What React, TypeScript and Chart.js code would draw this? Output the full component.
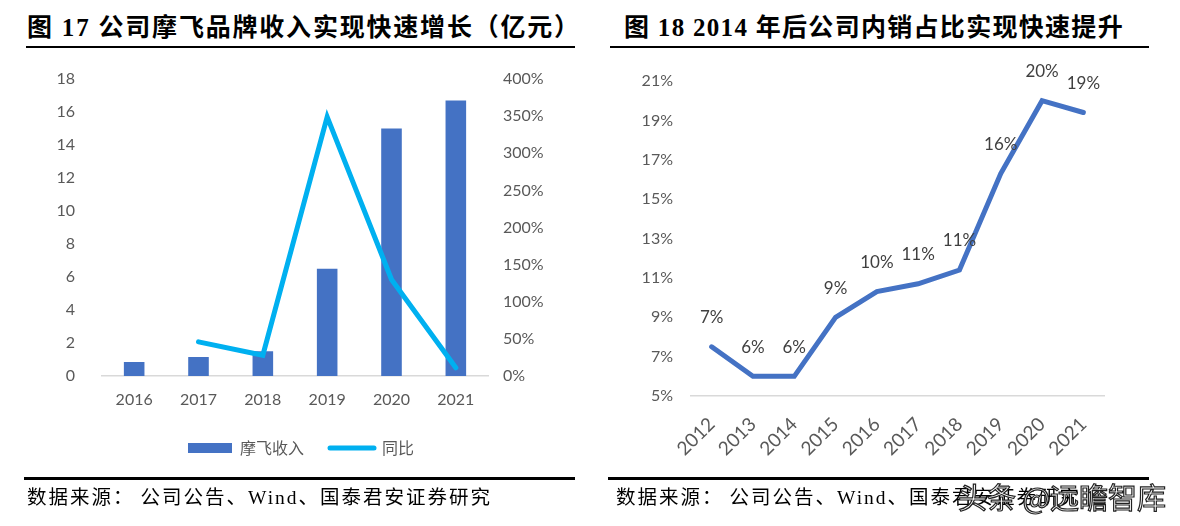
import React, { useEffect, useRef } from "react";
import { Chart, registerables } from "chart.js";

Chart.register(...registerables);

// ---- Left chart data ----
const revenueYears = ["2016", "2017", "2018", "2019", "2020", "2021"];
const revenueValues = [0.85, 1.15, 1.5, 6.5, 15.0, 16.7]; // 亿元
const growthValues: (number | null)[] = [null, 46, 28, 349, 130, 11]; // %
const revenueLabel = "摩飞收入";
const growthLabel = "同比";

// ---- Right chart data ----
const shareYears = ["2012", "2013", "2014", "2015", "2016", "2017", "2018", "2019", "2020", "2021"];
const shareValues = [7.5, 6.0, 6.0, 9.0, 10.3, 10.7, 11.4, 16.3, 20.0, 19.4]; // %
const shareLabels = ["7%", "6%", "6%", "9%", "10%", "11%", "11%", "16%", "20%", "19%"];

const titleLeft = "图 17 公司摩飞品牌收入实现快速增长（亿元）";
const titleRight = "图 18 2014 年后公司内销占比实现快速提升";
const sourceHead = "数据来源：";
const sourceTail = "公司公告、Wind、国泰君安证券研究";
const watermark = "头条 @远瞻智库";

const TICK_FONT = { family: "Lato, 'Noto Sans CJK SC', sans-serif", size: 16 };
const TICK_COLOR = "#595959";

const noYPadding = (w: number) => (s: any) => {
  s.width = w;
  s.paddingTop = 0;
  s.paddingBottom = 0;
};

function LeftChart() {
  const ref = useRef<HTMLCanvasElement | null>(null);
  useEffect(() => {
    if (!ref.current) return;
    const chart = new Chart(ref.current, {
      type: "bar",
      data: {
        labels: revenueYears,
        datasets: [
          {
            type: "bar",
            label: revenueLabel,
            data: revenueValues,
            backgroundColor: "#4472C4",
            yAxisID: "y",
            barPercentage: 0.32,
            categoryPercentage: 1,
            order: 2,
          } as any,
          {
            type: "line",
            label: growthLabel,
            data: growthValues,
            borderColor: "#00B0F0",
            backgroundColor: "#00B0F0",
            borderWidth: 5,
            pointRadius: 0,
            pointHoverRadius: 0,
            yAxisID: "y1",
            order: 1,
            borderCapStyle: "round",
          } as any,
        ],
      },
      options: {
        responsive: false,
        animation: false,
        devicePixelRatio: 1,
        layout: { padding: { top: 19, left: 0, right: 0, bottom: 24 } },
        plugins: {
          tooltip: { enabled: false },
          legend: {
            display: true,
            position: "bottom",
            labels: {
              usePointStyle: true,
              pointStyleWidth: 44,
              boxHeight: 10,
              padding: 26,
              color: TICK_COLOR,
              font: { family: "'Noto Sans CJK SC', sans-serif", size: 16 },
              generateLabels: (c: any) =>
                c.data.datasets.map((ds: any, i: number) => ({
                  text: ds.label,
                  datasetIndex: i,
                  fillStyle: i === 0 ? "#4472C4" : "#00B0F0",
                  strokeStyle: i === 0 ? "#4472C4" : "#00B0F0",
                  lineWidth: i === 0 ? 0 : 5,
                  lineCap: "round",
                  pointStyle: i === 0 ? "rect" : "line",
                  fontColor: TICK_COLOR,
                  hidden: false,
                })),
            },
          },
        },
        scales: {
          x: {
            grid: { display: false, drawTicks: false },
            border: { display: true, color: "#D9D9D9", width: 1.5 },
            ticks: { color: TICK_COLOR, font: TICK_FONT, padding: 14 },
            afterFit: (s: any) => {
              s.height = 38;
            },
          },
          y: {
            position: "left",
            min: 0,
            max: 18,
            grid: { display: false, drawTicks: false },
            border: { display: false },
            ticks: { stepSize: 2, color: TICK_COLOR, font: TICK_FONT, padding: 27 },
            afterFit: noYPadding(76),
          },
          y1: {
            position: "right",
            min: 0,
            max: 400,
            grid: { display: false, drawTicks: false },
            border: { display: false },
            ticks: {
              stepSize: 50,
              color: TICK_COLOR,
              font: TICK_FONT,
              padding: 15,
              callback: (v: any) => v + "%",
            },
            afterFit: noYPadding(88),
          },
        },
      } as any,
    });
    return () => chart.destroy();
  }, []);
  return (
    <canvas
      ref={ref}
      width={550}
      height={430}
      style={{ position: "absolute", left: 26, top: 60, width: 550, height: 430 }}
    />
  );
}

const shareLabelPlugin = {
  id: "shareLabels",
  afterDatasetsDraw(chart: any) {
    const meta = chart.getDatasetMeta(0);
    const ctx = chart.ctx;
    ctx.save();
    ctx.font = "17px Lato, sans-serif";
    ctx.fillStyle = "#404040";
    ctx.textAlign = "center";
    ctx.textBaseline = "middle";
    meta.data.forEach((pt: any, i: number) => {
      ctx.fillText(shareLabels[i], pt.x, pt.y - 29);
    });
    ctx.restore();
  },
};

function RightChart() {
  const ref = useRef<HTMLCanvasElement | null>(null);
  useEffect(() => {
    if (!ref.current) return;
    const chart = new Chart(ref.current, {
      type: "line",
      data: {
        labels: shareYears,
        datasets: [
          {
            label: "内销占比",
            data: shareValues,
            borderColor: "#4472C4",
            backgroundColor: "#4472C4",
            borderWidth: 5,
            pointRadius: 0,
            pointHoverRadius: 0,
            borderCapStyle: "round",
          } as any,
        ],
      },
      options: {
        responsive: false,
        animation: false,
        devicePixelRatio: 1,
        layout: { padding: { top: 21, left: 0, right: 46, bottom: 14 } },
        plugins: { legend: { display: false }, tooltip: { enabled: false } },
        scales: {
          x: {
            offset: true,
            grid: { display: false, drawTicks: false },
            border: { display: true, color: "#D9D9D9", width: 1.5 },
            ticks: {
              color: TICK_COLOR,
              font: { ...TICK_FONT, size: 19 },
              padding: 17,
              maxRotation: 45,
              minRotation: 45,
              autoSkip: false,
            },
            afterFit: (s: any) => {
              s.height = 60;
            },
          },
          y: {
            min: 5,
            max: 21,
            grid: { display: false, drawTicks: false },
            border: { display: false },
            ticks: {
              stepSize: 2,
              color: TICK_COLOR,
              font: TICK_FONT,
              padding: 18,
              callback: (v: any) => v + "%",
            },
            afterFit: noYPadding(81),
          },
        },
      } as any,
      plugins: [shareLabelPlugin],
    });
    return () => chart.destroy();
  }, []);
  return (
    <canvas
      ref={ref}
      width={540}
      height={410}
      style={{ position: "absolute", left: 610, top: 60, width: 540, height: 410 }}
    />
  );
}

const titleStyle: React.CSSProperties = {
  position: "absolute",
  top: 12,
  fontFamily: "'Liberation Serif', 'Noto Sans CJK SC', serif",
  fontWeight: "bold",
  fontSize: 25,
  lineHeight: "32px",
  color: "#000",
  whiteSpace: "nowrap",
};

const sourceStyle: React.CSSProperties = {
  position: "absolute",
  top: 485,
  fontFamily: "'Liberation Serif', 'Noto Sans CJK SC', serif",
  fontSize: 19.5,
  letterSpacing: 2,
  lineHeight: "26px",
  color: "#000",
  whiteSpace: "nowrap",
};

function Source({ left }: { left: number }) {
  return (
    <div style={{ ...sourceStyle, left }}>
      {sourceHead}
      <span style={{ marginLeft: 6 }}>{sourceTail}</span>
    </div>
  );
}

export default function App() {
  return (
    <div
      style={{
        position: "absolute",
        left: 0,
        top: 0,
        width: 1180,
        height: 526,
        background: "#fff",
        overflow: "hidden",
      }}
    >
      <div style={{ ...titleStyle, left: 27, letterSpacing: 1.8 }}>{titleLeft}</div>
      <div style={{ ...titleStyle, left: 624, letterSpacing: 1.3 }}>{titleRight}</div>
      <div style={{ position: "absolute", left: 26, top: 46, width: 549, height: 2, background: "#000" }} />
      <div style={{ position: "absolute", left: 610, top: 46, width: 539, height: 2, background: "#000" }} />

      <LeftChart />
      <RightChart />

      <div style={{ position: "absolute", left: 24, top: 477, width: 551, height: 3, background: "#000" }} />
      <div style={{ position: "absolute", left: 608, top: 477, width: 541, height: 3, background: "#000" }} />
      <Source left={27} />
      <Source left={616} />
      <div
        style={{
          position: "absolute",
          left: 958,
          top: 478,
          fontFamily: "'Noto Sans CJK SC', sans-serif",
          fontSize: 29,
          lineHeight: "36px",
          color: "#fff",
          WebkitTextStroke: "1.2px #222",
          whiteSpace: "nowrap",
        }}
      >
        {watermark}
      </div>
    </div>
  );
}
